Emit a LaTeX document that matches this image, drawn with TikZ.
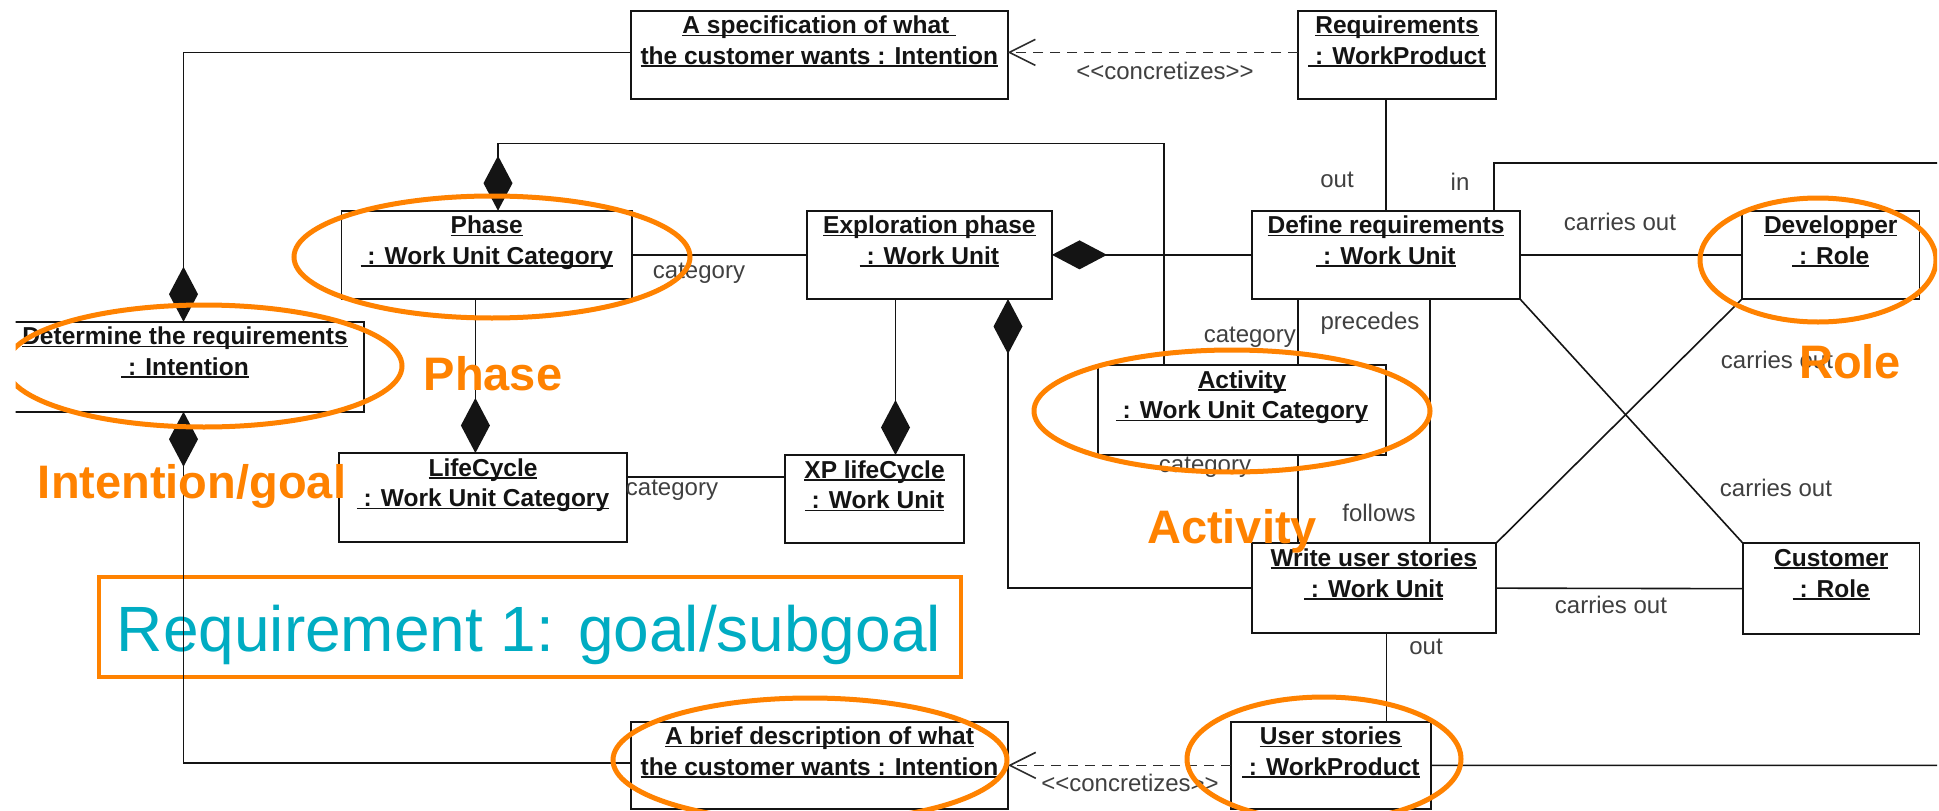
\documentclass[tikz,border=0pt]{standalone}
\usepackage{fontspec}
\setmainfont{Liberation Sans}
\usetikzlibrary{arrows.meta,calc}

\definecolor{hiorange}{RGB}{255,130,0}
\definecolor{hiteal}{RGB}{0,172,194}
\definecolor{ink}{RGB}{20,20,20}

% underlined object name, rule just under the baseline
\newcommand\ulin[1]{\setbox0=\hbox{#1}\rlap{\rule[-2.6pt]{\wd0}{1.6pt}}\box0}
\newcommand\objlines[2]{\begin{tabular}[t]{@{}c@{}}\ulin{#1}\\\ulin{#2}\end{tabular}}
% stereotype brackets kept as plain angle signs
\newcommand\stereo[1]{<\kern0pt<#1>\kern0pt>}

% UML object: name, left, top, right, bottom, first line, second line
\newcommand\umlobject[7]{%
  \node[objbox, minimum width={(#4-#2)*1pt}, minimum height={(#5-#3)*1pt}]
    (#1) at ({(#2+#4)/2},{(#3+#5)/2}) {};
  \node[objtext] (#1T) at ($(#1.north)+(0,23)$) {\objlines{#6}{#7}};
}

\tikzset{
  objbox/.style={draw=ink, line width=1.8pt, fill=white, inner sep=0pt, outer sep=0pt},
  objtext/.style={font=\fontsize{24.5}{30.7}\selectfont\bfseries, text=ink, inner sep=0pt, anchor=base},
  conn/.style={draw=ink, line width=1.6pt},
  compo/.style={-{Diamond[length=55pt,width=29pt]}},
  compostart/.style={{Diamond[length=55pt,width=29pt]}-},
  concr/.style={draw=ink!90, line width=1.6pt, dash pattern=on 10pt off 7pt,
                -{Straight Barb[length=26pt,width=26pt]}},
  role/.style={font=\fontsize{24}{28}\selectfont, text=black!75, inner sep=0pt},
  hilabel/.style={font=\fontsize{47}{50}\selectfont\bfseries, text=hiorange, inner sep=0pt, anchor=base},
  hiring/.style={draw=hiorange, line width=5pt},
}

\begin{document}
\begin{tikzpicture}[x=1pt, y=-1pt, line join=miter]
  \useasboundingbox[fill=white] (0,0) rectangle (1939,811);

  % highlighted requirement banner
  \node[draw=hiorange, line width=3.5pt, minimum width=862pt, minimum height=100pt, inner sep=0pt]
    (reqframe) at (530,627) {};
  \node[font=\fontsize{64}{70}\selectfont, text=hiteal, inner sep=0pt, anchor=base]
    (reqtext) at (529,651.7) {Requirement 1: goal/subgoal};

  \begin{scope}
    \clip (15.7,0) rectangle (1937,811);

    % objects
    \umlobject{spec}{631}{10.7}{1007.6}{99}{A specification of what~}{the customer wants : Intention}
    \umlobject{req}{1298}{10.7}{1496}{99}{Requirements}{~: WorkProduct}
    \umlobject{phase}{341.5}{210.7}{632}{299}{Phase}{~: Work Unit Category}
    \umlobject{explo}{806.7}{210.7}{1052}{299}{Exploration phase}{~: Work Unit}
    \umlobject{define}{1252}{210.7}{1520}{299}{Define requirements}{~: Work Unit}
    \umlobject{devel}{1742}{210.7}{1919.5}{299}{Developper}{~: Role}
    \umlobject{determine}{6}{321.7}{364}{411.7}{Determine the requirements}{~: Intention}
    \umlobject{activity}{1098}{365}{1386}{455}{Activity}{~: Work Unit Category}
    \umlobject{lifecycle}{339}{453}{627}{541.7}{LifeCycle}{~: Work Unit Category}
    \umlobject{xp}{785.3}{455}{963.8}{543.3}{XP lifeCycle}{~: Work Unit}
    \umlobject{write}{1251.6}{543.3}{1496}{633}{Write user stories}{~: Work Unit}
    \umlobject{customer}{1743}{543.3}{1919.5}{634}{Customer}{~: Role}
    \umlobject{brief}{631}{721.7}{1008}{809}{A brief description of what}{the customer wants : Intention}
    \umlobject{us}{1230.8}{721.7}{1430.8}{809}{User stories}{~: WorkProduct}

    % attachment points on the object borders
    \coordinate (phaseTop) at ($(phase.north)+(11.25,0)$);
    \coordinate (phaseBot) at ($(phase.south)+(-11.35,0)$);
    \coordinate (actTop)   at ($(activity.north)+(-78,0)$);
    \coordinate (actBot)   at ($(activity.south)+(56,0)$);
    \coordinate (exBotA)   at ($(explo.south)+(-33.85,0)$);
    \coordinate (exBotB)   at ($(explo.south)+(78.65,0)$);
    \coordinate (lcRight)  at ($(lifecycle.east)+(0,-20.35)$);
    \coordinate (defIn)    at ($(define.north)+(108,0)$);
    \coordinate (defCat)   at ($(define.south)+(-88,0)$);
    \coordinate (defSeq)   at ($(define.south)+(44,0)$);
    \coordinate (wrOut)    at ($(write.south)+(12.8,0)$);
    \coordinate (inEdge)   at (1939,163);
    \coordinate (usEdge)   at (1939,765.35);

    % composition links
    \draw[conn, compo] ($(spec.west)+(0,-2.5)$) -| ($(determine.north)+(-1.5,0)$);
    \draw[conn, compostart] ($(determine.south)+(-1.5,0)$) |- ($(brief.west)+(0,-2.6)$);
    \draw[conn, compo] (actTop) |- ($(phaseTop)+(0,-67.4)$) -- (phaseTop);
    \draw[conn, compo] (phaseBot) -- (phaseBot |- lifecycle.north);
    \draw[conn, compo] (define.west) -- (explo.east);
    \draw[conn, compo] (exBotA) -- (exBotA |- xp.north);
    \draw[conn, compostart] (exBotB) |- (write.west);

    % plain associations
    \draw[conn] (phase.east) -- (explo.west);
    \draw[conn] (lcRight) -- (lcRight -| xp.west);
    \draw[conn] (define.north) -- (define.north |- req.south);
    \draw[conn] (defIn) |- (inEdge);
    \draw[conn] (define.east) -- (devel.west);
    \draw[conn] (defCat) -- (defCat |- activity.north);
    \draw[conn] (actBot) -- (actBot |- write.north);
    \draw[conn] (defSeq) -- (defSeq |- write.north);
    \draw[conn] (define.south east) -- (customer.north west);
    \draw[conn] (devel.south west) -- (write.north east);
    \draw[conn] (write.east) -- (customer.west);
    \draw[conn] (wrOut) -- (wrOut |- us.north);
    \draw[conn] (us.east) -- (usEdge);

    % dependencies
    \draw[concr] ($(req.west)+(0,-2.5)$) -- ($(spec.east)+(0,-2.5)$);
    \draw[concr] (us.west) -- (brief.east);

    % role names and stereotypes
    \node[role] (stTop)    at (1165,71)  {\stereo{concretizes}};
    \node[role] (stBot)    at (1130,783) {\stereo{concretizes}};
    \node[role] (catPh)    at (699,273)  {category};
    \node[role] (catLc)    at (672,490)  {category};
    \node[role] (outReq)   at (1337,180) {out};
    \node[role] (inDef)    at (1460,182) {in};
    \node[role] (carDev)   at (1620,222) {carries out};
    \node[role, anchor=east] (catDef) at (1296,337) {category};
    \node[role] (preDef)   at (1370,323) {precedes};
    \node[role] (carUp)    at (1777,360) {carries out};
    \node[role] (catWr)    at (1205,467) {category};
    \node[role] (folWr)    at (1379,513) {follows};
    \node[role] (carLow)   at (1776,488) {carries out};
    \node[role] (carCus)   at (1611,605) {carries out};
    \node[role] (outWr)    at (1426,647) {out};

    % highlights
    \draw[hiring] (204,366)  ellipse [x radius=198pt, y radius=61pt];
    \draw[hiring] (492,257)  ellipse [x radius=198pt, y radius=61pt];
    \draw[hiring] (1232,411) ellipse [x radius=198pt, y radius=61pt];
    \draw[hiring] (1818,260) ellipse [x radius=118pt, y radius=62pt];
    \draw[hiring] (810,760)  ellipse [x radius=197pt, y radius=62pt];
    \draw[hiring] (1324,759) ellipse [x radius=137pt, y radius=62pt];
  \end{scope}

  \node[hilabel] (hlPhase)    at (493,390)  {Phase};
  \node[hilabel] (hlIntent)   at (192,498)  {Intention/goal};
  \node[hilabel] (hlActivity) at (1232,543) {Activity};
  \node[hilabel] (hlRole)     at (1850,378) {Role};
\end{tikzpicture}
\end{document}
